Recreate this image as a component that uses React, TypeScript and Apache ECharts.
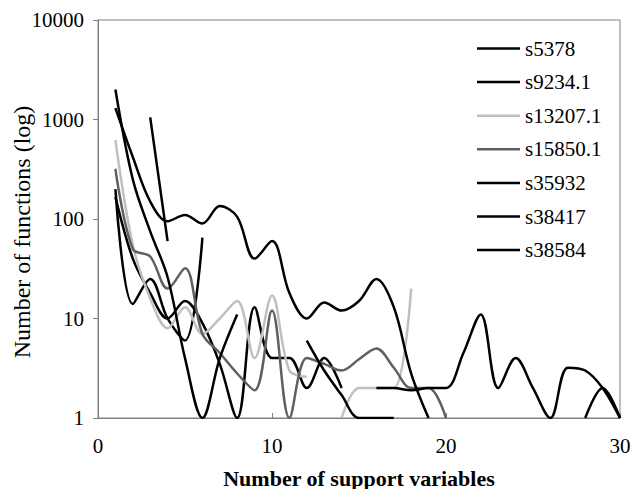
import React, { useEffect, useRef } from "react";
import * as echarts from "echarts";

// x positions: number of support variables 1..30
const xValues: number[] = Array.from({ length: 30 }, (_, i) => i + 1);

const seriesNames = ["s5378", "s9234.1", "s13207.1", "s15850.1", "s35932", "s38417", "s38584"];

// values per x = 1..30 (null = no point)
const s5378: (number | null)[] = [200, 14, 25, 10, 6, 65, null, null, null, null, null, null, null, null, null, null, null, null, null, null, null, null, null, null, null, null, null, null, null, null];
const s9234: (number | null)[] = [167, 40, 18, 10, 15, 9, 3.5, 1, 13, 4, 4, 2, 4, 2, null, null, null, null, null, null, null, null, null, null, null, null, null, null, null, null];
const s13207: (number | null)[] = [620, 55, 16, 8, 13, 7, 10, 15, 4, 17, 3, 2.6, null, 1, 2, 2, 2, 20, null, null, null, null, null, null, null, null, null, null, null, null];
const s15850: (number | null)[] = [320, 50, 42, 20, 32, 7, 4.5, 2.8, 1.9, 12, 1, 4, 3.5, 3, 3.9, 5, 3.2, 2, 2, 1, null, null, null, null, null, null, null, null, null, null];
const s35932: (number | null)[] = [1300, 420, 150, 95, 110, 90, 135, 105, 40, 60, 18, 10, 14.5, 12, 15, 25, 13, 2.8, 1, null, null, null, null, null, null, null, null, null, null, null];
const s38417: (number | null)[] = [2000, 250, 75, 26, 4, 1, 4, 11, null, null, null, 6, 3, 1.7, 1, 1, 1, null, null, null, null, null, null, null, null, null, null, 1, 2, 1];
const s38584: (number | null)[] = [null, null, 1050, 60, null, null, null, null, null, null, null, null, null, null, null, 2, 2, 1.9, 2, 2, 4.5, 11, 2, 4, 2, 1, 3.2, 3, 2, 1];

const seriesValues = [s5378, s9234, s13207, s15850, s35932, s38417, s38584];
const seriesColors = ["#000000", "#000000", "#c0c0c0", "#606060", "#000000", "#000000", "#000000"];

const yTicks = [1, 10, 100, 1000, 10000];
const xTicks = [0, 10, 20, 30];

const xTitle = "Number of support variables";
const yTitle = "Number of functions (log)";

const FONT = "Liberation Serif";

export default function App() {
  const ref = useRef<HTMLDivElement>(null);

  useEffect(() => {
    if (!ref.current) return;
    const chart = echarts.init(ref.current, undefined, { renderer: "svg" });
    const series = seriesNames.map((name, i) => ({
      name,
      type: "line",
      data: xValues.map((x, k) => [x, seriesValues[i][k]]),
      symbol: "none",
      smooth: 0.35,
      connectNulls: false,
      clip: true,
      lineStyle: { color: seriesColors[i], width: 2.5 },
      itemStyle: { color: seriesColors[i] },
    }));
    chart.setOption({
      animation: false,
      backgroundColor: "#ffffff",
      grid: {
        left: 98,
        right: 11,
        top: 20,
        bottom: 71,
        show: true,
        borderColor: "#808080",
        borderWidth: 1,
        backgroundColor: "transparent",
        containLabel: false,
        outerBoundsMode: "none",
      },
      legend: {
        orient: "vertical",
        left: 472,
        top: 33,
        itemWidth: 43,
        itemHeight: 12,
        itemGap: 12.6,
        data: seriesNames.map((n, i) => ({
          name: n,
          icon: "path://M0,0 L43,0 L43,2.5 L0,2.5 Z",
          itemStyle: { color: seriesColors[i] },
          textStyle: { fontFamily: FONT, fontSize: 21, color: "#000" },
        })),
        textStyle: { fontFamily: FONT, fontSize: 21, color: "#000" },
      },
      graphic: [
        {
          type: "text",
          x: 22,
          y: 232,
          rotation: Math.PI / 2,
          style: {
            text: yTitle,
            fontFamily: FONT,
            fontSize: 24,
            fill: "#000",
            align: "center",
            verticalAlign: "middle",
          },
        },
      ],
      xAxis: {
        type: "value",
        min: xTicks[0],
        max: xTicks[xTicks.length - 1],
        interval: 10,
        name: xTitle,
        nameLocation: "middle",
        nameGap: 49,
        nameTextStyle: { fontFamily: FONT, fontSize: 22, fontWeight: "bold", color: "#000" },
        axisLine: { lineStyle: { color: "#808080", width: 1 } },
        axisTick: { show: true, inside: true, length: 5, lineStyle: { color: "#808080" } },
        axisLabel: { fontFamily: FONT, fontSize: 21, color: "#000", margin: 17 },
        splitLine: { show: false },
      },
      yAxis: {
        type: "log",
        logBase: 10,
        min: yTicks[0],
        max: yTicks[yTicks.length - 1],
        axisLine: { show: true, lineStyle: { color: "#808080", width: 1 } },
        axisTick: { show: true, inside: false, length: 5, lineStyle: { color: "#808080" } },
        axisLabel: {
          fontFamily: FONT,
          fontSize: 21,
          color: "#000",
          margin: 14,
          formatter: (v: number) => String(Math.round(v)),
        },
        splitLine: { show: false },
        minorTick: { show: false },
      },
      series,
    });
    return () => chart.dispose();
  }, []);

  return (
    <div
      ref={ref}
      style={{ position: "absolute", left: 0, top: 0, width: 631, height: 489, background: "#fff" }}
    />
  );
}
